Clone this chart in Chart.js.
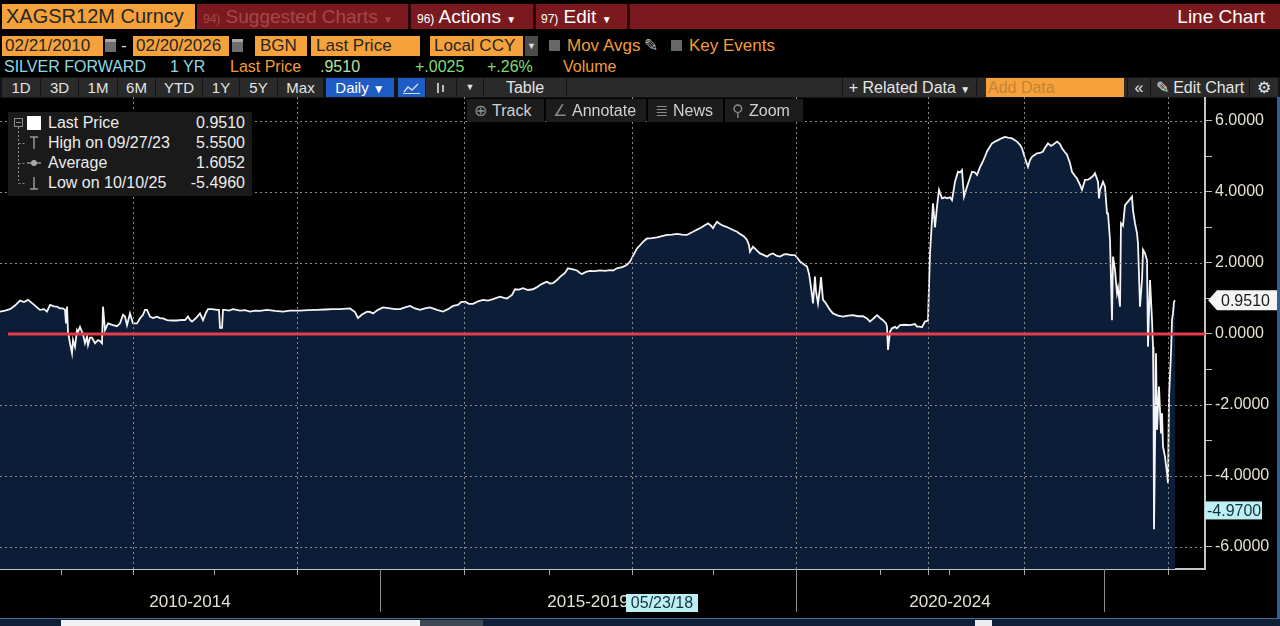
<!DOCTYPE html>
<html>
<head>
<meta charset="utf-8">
<title>XAGSR12M Curncy - Line Chart</title>
<script src="https://cdn.jsdelivr.net/npm/chart.js@4.4.1/dist/chart.umd.min.js"></script>
<style>
  html, body { margin: 0; padding: 0; background: #000; }
  body { width: 1280px; height: 626px; position: relative; overflow: hidden;
         font-family: "Liberation Sans", Arial, sans-serif; color: #e8e8e8; }
  .a { position: absolute; white-space: nowrap; box-sizing: border-box; }
  .org { background: #f6a23c; color: #262626; }
  .r1 { top: 4px; height: 25px; line-height: 25px; font-size: 19px; }
  .r2 { top: 36px; height: 20px; line-height: 20px; font-size: 17px; }
  .r3 { top: 57px; height: 19px; line-height: 19px; font-size: 16px; }
  .r4 { top: 78px; height: 19px; line-height: 19px; font-size: 15px; color: #e4e4e4; text-align: center; background: #2a2a2a; }
  .blue { background: #1f5cc4; color: #fff; }
  .trk { top: 99px; height: 23px; line-height: 23px; font-size: 16px; color: #d0d0d0; background: #1c1c1c; padding-left: 7px; z-index: 3; }
  .trk i { font-style: normal; color: #8a8a8a; margin-right: 5px; }
  .lg { left: 40px; height: 20px; line-height: 20px; font-size: 16px; color: #ececec; }
  .lv { right: 7px; height: 20px; line-height: 20px; font-size: 16px; color: #ececec; }
  .cy { color: #8fd8e2; }
  .or { color: #f29c36; }
  .gr { color: #7fdc78; }
  .sq { top: 40px; width: 11px; height: 11px; background: #676767; }
  .cal { top: 39px; width: 11px; height: 13px; background: #6e6e6e; border-top: 3px solid #a8a8a8; }
  .sep { top: 4px; width: 3px; height: 25px; background: #2b0709; }
  .n { font-size: 12px; }
  .dd { font-size: 10px; }
</style>
</head>
<body>

<!-- row 1 : ticker + menu bar -->
<div class="a r1 org" style="left:2px;width:193px;padding-left:4px;font-size:20px">XAGSR12M Curncy</div>
<div class="a" style="left:197px;top:4px;width:1083px;height:25px;background:#7a1a1e"></div>
<div class="a sep" style="left:408px"></div>
<div class="a sep" style="left:533px"></div>
<div class="a sep" style="left:627px"></div>
<div class="a r1" style="left:203px;color:#a6464c"><span class="n">94)</span> Suggested Charts <span class="dd">▼</span></div>
<div class="a r1" style="left:417px;color:#fff"><span class="n">96)</span> Actions <span class="dd">▼</span></div>
<div class="a r1" style="left:541px;color:#fff"><span class="n">97)</span> Edit <span class="dd">▼</span></div>
<div class="a r1" style="right:15px;color:#fff">Line Chart</div>

<!-- row 2 : date range and settings -->
<div class="a r2 org" style="left:2px;width:101px;padding-left:3px">02/21/2010</div>
<div class="a cal" style="left:105px"></div>
<div class="a r2" style="left:121px;color:#ddd">-</div>
<div class="a r2 org" style="left:133px;width:96px;padding-left:3px">02/20/2026</div>
<div class="a cal" style="left:232px"></div>
<div class="a r2 org" style="left:255px;width:52px;padding-left:5px">BGN</div>
<div class="a r2 org" style="left:311px;width:109px;padding-left:5px">Last Price</div>
<div class="a r2 org" style="left:430px;width:93px;padding-left:4px">Local CCY</div>
<div class="a r2" style="left:525px;width:13px;background:#4b4b4b;color:#ddd;font-size:9px;text-align:center">▼</div>
<div class="a sq" style="left:549px"></div>
<div class="a r2 or" style="left:567px">Mov Avgs</div>
<div class="a r2" style="left:644px;color:#bbb">✎</div>
<div class="a sq" style="left:671px"></div>
<div class="a r2 or" style="left:689px">Key Events</div>

<!-- row 3 : security line -->
<div class="a r3 cy" style="left:4px">SILVER FORWARD</div>
<div class="a r3 cy" style="left:170px">1 YR</div>
<div class="a r3 or" style="left:230px">Last Price</div>
<div class="a r3" style="left:320px;color:#b8e49c">.9510</div>
<div class="a r3 gr" style="left:415px">+.0025</div>
<div class="a r3 gr" style="left:487px">+.26%</div>
<div class="a r3 or" style="left:563px">Volume</div>

<!-- row 4 : toolbar -->
<div class="a" style="left:0;top:77px;width:1280px;height:21px;background:#141414"></div>
<div class="a r4" style="left:2px;width:38px">1D</div>
<div class="a r4" style="left:41px;width:37px">3D</div>
<div class="a r4" style="left:79px;width:38px">1M</div>
<div class="a r4" style="left:118px;width:37px">6M</div>
<div class="a r4" style="left:156px;width:46px">YTD</div>
<div class="a r4" style="left:203px;width:36px">1Y</div>
<div class="a r4" style="left:240px;width:37px">5Y</div>
<div class="a r4" style="left:278px;width:45px">Max</div>
<div class="a r4 blue" style="left:326px;width:68px">Daily <span style="font-size:12px">▼</span></div>
<div class="a r4 blue" style="left:398px;width:27px">
  <svg width="27" height="19"><polyline points="6,14 10,9 14,12 20,6" fill="none" stroke="#cfe0ff" stroke-width="1.4"/><line x1="5" y1="15.5" x2="22" y2="15.5" stroke="#cfe0ff"/></svg>
</div>
<div class="a r4" style="left:426px;width:30px">
  <svg width="30" height="19"><g stroke="#bbb" stroke-width="2"><line x1="12" y1="5" x2="12" y2="15"/><line x1="17" y1="7" x2="17" y2="14"/></g></svg>
</div>
<div class="a r4" style="left:457px;width:26px;font-size:9px">▼</div>
<div class="a r4" style="left:484px;width:82px;font-size:16px">Table</div>
<div class="a r4" style="left:567px;width:275px"></div>
<div class="a r4" style="left:843px;width:133px;font-size:16px">+ Related Data <span class="dd">▼</span></div>
<div class="a r4" style="left:977px;width:150px"></div>
<div class="a r2 org" style="left:986px;top:78px;height:19px;line-height:19px;width:138px;padding-left:2px;color:#c58436;font-size:16px">Add Data</div>
<div class="a r4" style="left:1128px;width:22px;font-size:16px">«</div>
<div class="a r4" style="left:1151px;width:98px;font-size:16px">✎ Edit Chart</div>
<div class="a r4" style="left:1250px;width:28px;font-size:16px">⚙</div>

<!-- chart -->
<div class="a" style="left:0;top:97px;width:1280px;height:521px">
  <canvas id="c" width="1280" height="521"></canvas>
</div>

<!-- track bar -->
<div class="a trk" style="left:467px;width:77px"><i>⊕</i>Track</div>
<div class="a trk" style="left:546px;width:100px"><i>∠</i>Annotate</div>
<div class="a trk" style="left:648px;width:75px"><i>≣</i>News</div>
<div class="a trk" style="left:725px;width:78px"><i>⚲</i>Zoom</div>

<!-- legend -->
<div class="a" style="left:8px;top:112px;width:244px;height:84px;background:#1a1a1a;z-index:3">
  <svg class="a" style="left:0;top:0" width="40" height="84">
    <g stroke="#8a8a8a" fill="none" stroke-width="1">
      <rect x="6.5" y="6.5" width="8" height="8"/>
      <line x1="8" y1="10.5" x2="13" y2="10.5"/>
      <line x1="10.5" y1="15" x2="10.5" y2="71" stroke-dasharray="2 2"/>
      <line x1="10.5" y1="31.5" x2="17" y2="31.5" stroke-dasharray="2 2"/>
      <line x1="10.5" y1="51.5" x2="17" y2="51.5" stroke-dasharray="2 2"/>
      <line x1="10.5" y1="71.5" x2="17" y2="71.5" stroke-dasharray="2 2"/>
    </g>
    <rect x="19" y="4" width="14" height="14" fill="#fff"/>
    <g stroke="#aaa" stroke-width="1.3" fill="#aaa">
      <line x1="22" y1="25" x2="30" y2="25"/><line x1="26" y1="25" x2="26" y2="37"/>
      <line x1="19" y1="51" x2="33" y2="51"/><circle cx="26" cy="51" r="2.3"/>
      <line x1="26" y1="65" x2="26" y2="77"/><line x1="22" y1="77" x2="30" y2="77"/>
    </g>
  </svg>
  <div class="a lg" style="top:1px">Last Price</div>
  <div class="a lv" style="top:1px">0.9510</div>
  <div class="a lg" style="top:21px">High on 09/27/23</div>
  <div class="a lv" style="top:21px">5.5500</div>
  <div class="a lg" style="top:41px">Average</div>
  <div class="a lv" style="top:41px">1.6052</div>
  <div class="a lg" style="top:61px">Low on 10/10/25</div>
  <div class="a lv" style="top:61px">-5.4960</div>
</div>

<!-- bottom navigator strip and window border -->
<div class="a" style="left:0;top:618px;width:1280px;height:8px;background:#0f2038;border-top:1px solid #4a6a90"></div>
<div class="a" style="left:61px;top:620px;width:359px;height:6px;background:#f2f2f2"></div>
<div class="a" style="left:420px;top:620px;width:63px;height:6px;background:#3e4955"></div>
<div class="a" style="left:975px;top:620px;width:17px;height:6px;background:#eeeeee"></div>
<div class="a" style="left:1277px;top:97px;width:3px;height:521px;background:#2f5f96"></div>

<script>
const FONT = '"Liberation Sans", Arial, sans-serif';

// XAGSR12M 1 yr silver forward, [session, value], per period
const spread2010_14 = [
  [0,0.63],[5,0.66],[10,0.70],[15,0.80],[20,0.94],[24,0.90],[28,0.96],[33,0.85],[37,0.75],[40,0.68],
  [44,0.70],[47,0.63],[50,0.82],[54,0.78],[57,0.77],[60,0.72],[63,0.72],[65,0.68],[66,0.30],[67,0.77],
  [68,0.06],[70,-0.26],[72,-0.54],[73,-0.17],[75,-0.36],[77,0.11],[78,0.06],[80,0.20],[82,0.06],[83,0.00],
  [85,-0.26],[87,-0.08],[88,-0.31],[90,-0.10],[92,-0.10],[95,-0.26],[98,-0.17],[100,-0.20],[102,-0.26],[103,0.77],
  [105,0.11],[108,0.30],[113,0.25],[117,0.22],[120,0.30],[123,0.54],[125,0.49],[127,0.25],[130,0.58],[133,0.30],
  [137,0.30],[140,0.44],[143,0.54],[145,0.68],[147,0.68],[150,0.49],[153,0.45],[157,0.49],[160,0.45],[163,0.44],
  [167,0.39],[172,0.38],[177,0.38],[182,0.40],[185,0.39],[188,0.49],[190,0.40],[192,0.35],[196,0.45],[200,0.58],
  [203,0.39],[206,0.60],[208,0.70],[212,0.70],[217,0.68],[219,0.68],[220,0.17],[222,0.17],[223,0.68],[225,0.68],
  [229,0.66],[233,0.70],[240,0.66],[245,0.67],[250,0.63],[255,0.66],[260,0.65],[267,0.68],[275,0.65],[283,0.63],
  [290,0.66],[300,0.66],[308,0.67],[317,0.68],[325,0.69],[333,0.70],[340,0.70],[350,0.72],[355,0.62],[358,0.45],
  [362,0.55],[367,0.63],[370,0.62],[373,0.58],[378,0.68]
];
const spread2015_19 = [
  [383,0.75],[390,0.72],[395,0.70],[400,0.70],[405,0.75],[410,0.79],[415,0.72],[420,0.68],[425,0.72],[430,0.75],
  [437,0.68],[443,0.63],[448,0.70],[453,0.79],[458,0.82],[461,0.90],[465,0.91],[469,0.85],[473,0.85],[478,0.92],
  [483,0.96],[488,0.94],[493,0.98],[500,1.05],[504,1.02],[507,1.00],[512,1.10],[515,1.26],[519,1.25],[523,1.29],
  [528,1.24],[533,1.26],[537,1.32],[540,1.38],[544,1.44],[547,1.47],[550,1.42],[553,1.43],[557,1.52],[560,1.61],
  [565,1.72],[568,1.85],[572,1.83],[577,1.79],[580,1.72],[582,1.69],[586,1.75],[590,1.78],[595,1.77],[600,1.79],
  [605,1.78],[610,1.80],[613,1.79],[617,1.85],[620,1.87],[623,1.89],[627,1.95],[630,2.04],[633,2.20],[637,2.41],
  [640,2.50],[644,2.62],[647,2.69],[652,2.70],[657,2.72],[662,2.76],[667,2.79],[672,2.80],[677,2.82],[682,2.80],
  [687,2.79],[690,2.84],[693,2.88],[697,2.94],[700,2.98],[704,3.05],[708,3.12],[711,3.05],[713,2.98],[715,3.08],
  [717,3.16],[720,3.10],[723,3.05],[728,3.00],[733,2.93],[737,2.88],[740,2.82],[744,2.75],[747,2.65],[749,2.50],
  [750,2.32],[753,2.46],[757,2.35],[760,2.27],[764,2.22],[767,2.18],[770,2.24],[773,2.27],[777,2.20],[780,2.18],
  [784,2.24],[787,2.25],[791,2.22],[795,2.22]
];
const spread2020_24 = [
  [798,2.12],[800,2.04],[804,1.96],[807,1.90],[809,1.70],[810,1.52],[812,1.10],[813,0.86],[815,1.62],[816,1.20],
  [818,0.86],[820,1.30],[821,1.60],[823,0.96],[825,0.90],[828,0.77],[830,0.68],[833,0.58],[838,0.52],[843,0.49],
  [848,0.52],[853,0.53],[858,0.50],[863,0.50],[867,0.44],[870,0.35],[874,0.45],[877,0.53],[880,0.45],[883,0.39],
  [886,0.30],[887,0.21],[888,-0.45],[890,0.06],[892,0.16],[895,0.20],[897,0.16],[900,0.25],[905,0.26],[910,0.25],
  [915,0.28],[917,0.21],[920,0.21],[922,0.19],[925,0.35],[928,0.38],[930,2.27],[932,3.21],[933,3.68],[935,3.00],
  [937,3.59],[939,4.06],[942,3.82],[945,3.85],[947,3.82],[950,3.85],[952,3.77],[955,4.29],[958,4.57],[960,4.55],
  [962,4.62],[964,3.87],[967,4.15],[970,4.40],[972,4.57],[975,4.55],[977,4.48],[980,4.70],[982,4.81],[985,5.00],
  [987,5.14],[990,5.28],[992,5.37],[995,5.42],[998,5.46],[1002,5.52],[1005,5.55],[1008,5.53],[1012,5.51],[1017,5.42],
  [1020,5.33],[1022,5.23],[1025,4.95],[1028,4.71],[1030,4.90],[1032,4.99],[1035,5.05],[1037,5.09],[1040,5.10],[1043,5.14],
  [1045,5.25],[1048,5.37],[1051,5.30],[1053,5.33],[1057,5.42],[1060,5.35],[1062,5.23],[1065,5.12],[1067,5.05],[1070,4.81],
  [1072,4.57],[1075,4.45],[1077,4.38],[1080,4.20],[1082,4.06],[1085,4.34],[1088,4.35],[1090,4.38],[1093,4.45],[1095,4.53],
  [1098,4.29],[1099,3.82],[1100,4.06],[1103,4.29]
];
const spread2025_26 = [
  [1105,4.15],[1107,3.40],[1108,3.40],[1110,2.65],[1112,0.39],[1113,2.18],[1115,1.80],[1117,1.15],[1118,1.30],[1120,0.77],
  [1121,3.12],[1123,3.05],[1125,3.63],[1128,3.73],[1130,3.80],[1132,3.87],[1133,3.49],[1135,3.12],[1137,2.84],[1138,2.55],
  [1140,0.77],[1142,1.52],[1143,2.37],[1145,2.27],[1147,2.08],[1148,-0.36],[1150,1.52],[1152,0.39],[1153,-0.36],[1153.5,-1.67],
  [1154,-5.50],[1155,-3.17],[1156,-0.54],[1157,-2.70],[1158,-2.05],[1159,-1.48],[1161,-2.80],[1162,-2.23],[1163,-3.17],[1165,-3.46],
  [1167,-3.92],[1168,-4.20],[1169,-1.77],[1171,-0.54],[1172,0.39],[1173,0.58],[1174,0.91],[1175,0.951]
];

// session where each calendar year starts
const yearTicks = [61, 133, 214, 297, 380, 464, 549, 632, 713, 796, 880, 928, 949, 1024, 1104, 1168];
const tickYears = [2011, 2012, 2013, 2014, 2015, 2016, 2017, 2018, 2019, 2020, 2021, 2022, 2023, 2024, 2025, 2026];
const periodStart = [0, 380, 796, 1104, 1205];
const periodLabel = ['2010-2014', '2015-2019', '2020-2024', ''];
const yTicks = [-6, -5, -4, -3, -2, -1, 0, 1, 2, 3, 4, 5, 6];

const lastPrice = 0.951;
const crossDate = '05/23/18';
const crossSession = 662;
const crossValue = -4.97;

const series = [...spread2010_14, ...spread2015_19, ...spread2020_24, ...spread2025_26];

const overlay = {
  id: 'overlay',
  afterDatasetsDraw(chart) {
    // dotted grid, drawn over the area fill like the terminal does
    const {ctx, chartArea: a, scales: {x, y}} = chart;
    ctx.save();
    ctx.strokeStyle = '#8a8a8a';
    ctx.lineWidth = 1;
    ctx.setLineDash([2, 3]);
    ctx.beginPath();
    yearTicks.forEach((s, i) => {
      if (tickYears[i] % 2 !== 0) return;
      const px = Math.round(x.getPixelForValue(s)) + 0.5;
      ctx.moveTo(px, a.top);
      ctx.lineTo(px, a.bottom);
    });
    yTicks.forEach(v => {
      if (v % 2 !== 0 || v === 0) return;
      const py = Math.round(y.getPixelForValue(v)) + 0.5;
      ctx.moveTo(a.left, py);
      ctx.lineTo(a.right, py);
    });
    ctx.stroke();
    ctx.restore();
  },
  afterDraw(chart) {
    const {ctx, chartArea: a, scales: {x, y}} = chart;
    ctx.save();

    // zero line
    const y0 = y.getPixelForValue(0);
    ctx.strokeStyle = '#e43c48';
    ctx.lineWidth = 3;
    ctx.beginPath();
    ctx.moveTo(a.left + 8, y0);
    ctx.lineTo(a.right, y0);
    ctx.stroke();

    // period separators and labels under the axis
    ctx.strokeStyle = '#8d8d8d';
    ctx.lineWidth = 1;
    ctx.font = '17px ' + FONT;
    ctx.textAlign = 'center';
    ctx.textBaseline = 'middle';
    ctx.fillStyle = '#e4e0d4';
    for (let i = 0; i < periodLabel.length; i++) {
      const px = x.getPixelForValue(periodStart[i]);
      if (i > 0) {
        ctx.beginPath();
        ctx.moveTo(Math.round(px) + 0.5, a.bottom);
        ctx.lineTo(Math.round(px) + 0.5, a.bottom + 43);
        ctx.stroke();
      }
      if (periodLabel[i]) {
        const nx = x.getPixelForValue(periodStart[i + 1]);
        ctx.fillText(periodLabel[i], (px + nx) / 2, a.bottom + 33);
      }
    }

    // crosshair date tag
    ctx.font = '16px ' + FONT;
    const cx = x.getPixelForValue(crossSession);
    ctx.fillStyle = '#bdf0f4';
    ctx.fillRect(cx - 36, a.bottom + 25, 72, 18);
    ctx.fillStyle = '#14303a';
    ctx.fillText(crossDate, cx, a.bottom + 35);

    // last price tag
    ctx.textAlign = 'left';
    const ly = y.getPixelForValue(lastPrice);
    const tx = a.right + 3;
    ctx.fillStyle = '#f4f4f4';
    ctx.beginPath();
    ctx.moveTo(tx, ly);
    ctx.lineTo(tx + 9, ly - 10);
    ctx.lineTo(chart.width - 3, ly - 10);
    ctx.lineTo(chart.width - 3, ly + 10);
    ctx.lineTo(tx + 9, ly + 10);
    ctx.closePath();
    ctx.fill();
    ctx.fillStyle = '#1a1a1a';
    ctx.fillText(lastPrice.toFixed(4), tx + 13, ly + 1);

    // crosshair value tag
    const cy = y.getPixelForValue(crossValue);
    ctx.fillStyle = '#bdf0f4';
    ctx.fillRect(a.right, cy - 9, 57, 18);
    ctx.fillStyle = '#14303a';
    ctx.fillText(crossValue.toFixed(4), a.right + 2, cy + 1);

    ctx.restore();
  }
};

new Chart(document.getElementById('c'), {
  type: 'line',
  data: {
    datasets: [{
      label: 'Last Price',
      data: series.map(([s, v]) => ({x: s, y: v})),
      borderColor: '#f4f4f4',
      borderWidth: 1.8,
      pointRadius: 0,
      tension: 0,
      fill: 'start',
      backgroundColor: '#0c1d38'
    }]
  },
  options: {
    responsive: false,
    animation: false,
    layout: {padding: 0},
    plugins: {legend: {display: false}, tooltip: {enabled: false}},
    scales: {
      x: {
        type: 'linear',
        min: 0,
        max: 1205,
        afterBuildTicks: s => { s.ticks = yearTicks.map(v => ({value: v})); },
        afterFit: s => { s.height = 49; s.paddingLeft = 0; s.paddingRight = 0; },
        ticks: {autoSkip: false, maxRotation: 0, callback: () => ''},
        grid: {drawOnChartArea: false, color: '#a8a8a8', tickColor: '#a8a8a8', tickLength: 6},
        border: {display: true, color: '#c4c4c4', width: 2}
      },
      y: {
        position: 'right',
        min: -6.62,
        max: 6.676,
        afterBuildTicks: s => { s.ticks = yTicks.map(v => ({value: v})); },
        afterFit: s => { s.width = 75; s.paddingTop = 0; s.paddingBottom = 0; },
        ticks: {
          autoSkip: false,
          padding: 3,
          color: '#e4e0d2',
          font: {size: 16, family: FONT},
          callback: v => (v % 2 === 0 ? v.toFixed(4) : '')
        },
        grid: {drawOnChartArea: false, color: '#bdbdbd', tickColor: '#bdbdbd', tickLength: 7},
        border: {display: true, color: '#c4c4c4', width: 2}
      }
    }
  },
  plugins: [overlay]
});
</script>
</body>
</html>
